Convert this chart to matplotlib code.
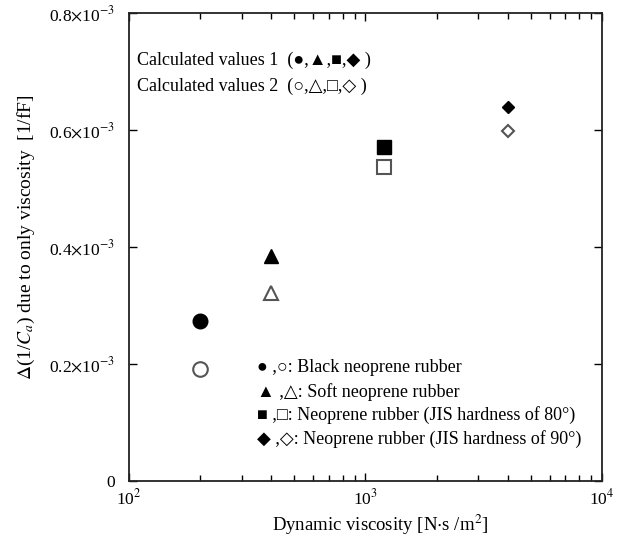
import matplotlib
matplotlib.use("Agg")
import matplotlib.pyplot as plt
from matplotlib.ticker import FixedLocator, FixedFormatter, LogLocator, NullFormatter

plt.rcParams['font.family'] = ['Liberation Serif', 'DejaVu Sans']
plt.rcParams['mathtext.fontset'] = 'stix'

viscosity = [200, 400, 1200, 4000]
calc1 = [0.274e-3, 0.385e-3, 0.571e-3, 0.639e-3]
calc2 = [0.191e-3, 0.321e-3, 0.537e-3, 0.598e-3]
markers = ['o', '^', 's', 'D']
sizes = [10.5, 10, 9.8, 6.5]
materials = ['Black neoprene rubber', 'Soft neoprene rubber',
             'Neoprene rubber (JIS hardness of 80°)',
             'Neoprene rubber (JIS hardness of 90°)']
sym_filled = ['●', '▲', '■', '◆']
sym_open = ['○', '△', '□', '◇']
yticks = [0, 0.2e-3, 0.4e-3, 0.6e-3, 0.8e-3]
yticklabels = ['0', r'0.2$\times$10$^{-3}$', r'0.4$\times$10$^{-3}$',
               r'0.6$\times$10$^{-3}$', r'0.8$\times$10$^{-3}$']

fig = plt.figure(figsize=(6.42, 5.5), dpi=100)
ax = fig.add_axes([0.2009, 0.1255, 0.7368, 0.8509])

for x, y1, y2, m, s in zip(viscosity, calc1, calc2, markers, sizes):
    ax.plot([x], [y1], marker=m, ms=s, color='black', mec='black', ls='none')
    ax.plot([x], [y2], marker=m, ms=s, mfc='white', mec='#555555', mew=1.5, ls='none')

ax.set_xscale('log')
ax.set_xlim(1e2, 1e4)
ax.set_ylim(0, 0.8e-3)
ax.xaxis.set_major_locator(FixedLocator([1e2, 1e3, 1e4]))
ax.xaxis.set_major_formatter(FixedFormatter([r'10$^2$', r'10$^3$', r'10$^4$']))
ax.xaxis.set_minor_locator(LogLocator(base=10, subs=range(2, 10)))
ax.xaxis.set_minor_formatter(NullFormatter())
ax.yaxis.set_major_locator(FixedLocator(yticks))
ax.yaxis.set_major_formatter(FixedFormatter(yticklabels))

ax.tick_params(which='both', direction='in', top=True, right=True, labelsize=12.5)
ax.tick_params(which='major', length=6, width=1)
ax.tick_params(which='minor', length=4, width=1)
ax.tick_params(axis='x', which='major', pad=5)
ax.tick_params(axis='y', which='major', pad=10)
for sp in ax.spines.values():
    sp.set_linewidth(1.3)
    sp.set_color('#222222')

ax.set_xlabel(r'Dynamic viscosity [N$\cdot$s /m$^2$]', fontsize=13.5)
ax.set_ylabel(r'$\Delta$(1/$C_a$) due to only viscosity  [1/fF]', fontsize=14)
ax.xaxis.set_label_coords(0.53, -0.068)
ax.yaxis.set_label_coords(-0.195, 0.52)

ax.text(0.018, 0.898, 'Calculated values 1  (' + ','.join(sym_filled) + ' )',
        transform=ax.transAxes, fontsize=13, va='center', ha='left')
ax.text(0.018, 0.843, 'Calculated values 2  (' + ','.join(sym_open) + ' )',
        transform=ax.transAxes, fontsize=13, va='center', ha='left')

y0 = 0.2415
for i, (f, o, name) in enumerate(zip(sym_filled, sym_open, materials)):
    ax.text(0.27, y0 - i * 0.0505, f + ' ,' + o + ': ' + name,
            transform=ax.transAxes, fontsize=13, va='center', ha='left')

fig.savefig('out.png', dpi=100)
